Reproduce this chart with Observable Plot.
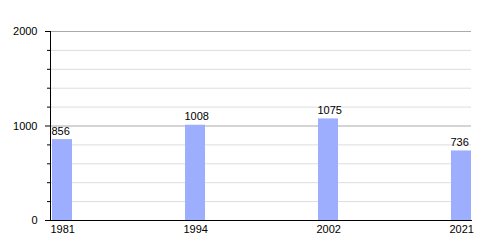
<!DOCTYPE html>
<html>
<head>
<meta charset="utf-8">
<script src="https://cdn.jsdelivr.net/npm/d3@7"></script>
<script src="https://cdn.jsdelivr.net/npm/@observablehq/plot@0.6"></script>
<style>
  html, body { margin: 0; padding: 0; background: #fff; }
  #chart svg { display: block; }
</style>
</head>
<body>
<div id="chart"></div>
<script>
const years = ["1981", "1994", "2002", "2021"];
const population = [856, 1008, 1075, 736];
const majorTicks = [0, 1000, 2000];
const minorTicks = [200, 400, 600, 800, 1200, 1400, 1600, 1800];

const data = years.map((y, i) => ({year: y, value: population[i]}));

const chart = Plot.plot({
  width: 500,
  height: 250,
  marginLeft: 50,
  marginRight: 29,
  marginTop: 31,
  marginBottom: 30,
  style: {fontFamily: "'Liberation Sans', Arial, sans-serif", fontSize: "11px", color: "#000", background: "#fff"},
  x: {domain: years, range: [51, 471], paddingInner: 0.85, paddingOuter: 0, label: null},
  y: {domain: [0, 2000], label: null},
  marks: [
    Plot.ruleY(minorTicks, {stroke: "#dddddd", strokeWidth: 1}),
    Plot.ruleY([1000, 2000], {stroke: "#aaaaaa", strokeWidth: 1}),
    Plot.barY(data, {x: "year", y: "value", fill: "#9daeff"}),
    Plot.frame({anchor: "left", stroke: "#000"}),
    Plot.frame({anchor: "bottom", stroke: "#000"}),
    Plot.axisY({ticks: minorTicks, tickSize: 3, tickFormat: () => "", label: null}),
    Plot.axisY({ticks: majorTicks, tickSize: 5, tickPadding: 8, tickFormat: d => String(d), label: null}),
    Plot.axisX({tickSize: 0, tickPadding: 5, textAnchor: "start", dx: -12, label: null}),
    Plot.text(data, {x: "year", y: "value", text: d => String(d.value), textAnchor: "start", dx: -11, lineAnchor: "bottom", dy: -5, fill: "#000"})
  ]
});
document.getElementById("chart").appendChild(chart);
</script>
</body>
</html>
